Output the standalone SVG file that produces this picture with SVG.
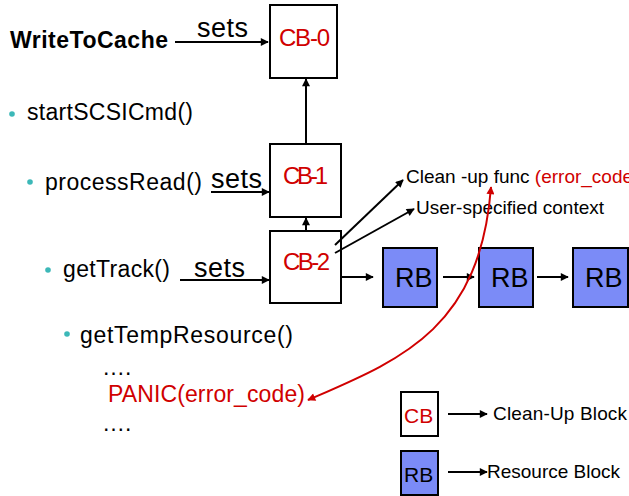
<svg xmlns="http://www.w3.org/2000/svg" width="629" height="496" viewBox="0 0 629 496">
<style>
text{font-family:"Liberation Sans",Arial,sans-serif;}
.t{font-size:23px;fill:#000;}
.red{fill:#d00000;}
.cb{fill:#fff;stroke:#000;stroke-width:2;}
.rb{fill:#7b8bf7;stroke:#000;stroke-width:2;}
.cbt{font-size:24px;fill:#d00000;}
.rbt{font-size:27px;fill:#000;}
.ln{stroke:#000;stroke-width:2;fill:none;}
.bul{fill:#3cb8b8;}
.sm{font-size:19px;fill:#000;}
</style>
<defs>
<marker id="ah" viewBox="0 0 10 10" refX="9" refY="5" markerWidth="9" markerHeight="8" markerUnits="userSpaceOnUse" orient="auto">
<path d="M0,0 L10,5 L0,10 Z" fill="#000"/>
</marker>
<marker id="ahr" viewBox="0 0 10 10" refX="9" refY="5" markerWidth="9" markerHeight="8" markerUnits="userSpaceOnUse" orient="auto-start-reverse">
<path d="M0,0 L10,5 L0,10 Z" fill="#d00000"/>
</marker>
</defs>

<g id="labels">
<text x="10" y="48" class="t" font-weight="bold" textLength="158">WriteToCache</text>
<circle class="bul" cx="12" cy="114" r="2.8"/>
<text x="27" y="120" class="t" textLength="166">startSCSICmd()</text>
<circle class="bul" cx="30" cy="182" r="2.8"/>
<text x="45" y="190" class="t" textLength="157">processRead()</text>
<circle class="bul" cx="48" cy="270" r="2.8"/>
<text x="63" y="277" class="t" textLength="107">getTrack()</text>
<circle class="bul" cx="67" cy="334" r="2.8"/>
<text x="80" y="343" class="t" textLength="213">getTempResource()</text>
<text x="102" y="375" class="t">….</text>
<text x="108" y="402" class="t red" textLength="197">PANIC(error_code)</text>
<text x="102" y="431" class="t">….</text>
<text x="197" y="37" font-size="27" textLength="51">sets</text>
<text x="211" y="188" font-size="27" textLength="51">sets</text>
<text x="194" y="277" font-size="27" textLength="51">sets</text>
<text x="406" y="183" class="sm">Clean -up func <tspan class="red">(error_code</tspan></text>
<text x="416" y="214" class="sm" textLength="188">User-specified context</text>
</g>

<g id="cb0"><rect class="cb" x="270" y="5" width="67" height="73"/><text x="279" y="46" class="cbt" textLength="51">CB-0</text></g>
<g id="cb1"><rect class="cb" x="270" y="144" width="71" height="73"/><text x="283" y="184" class="cbt" textLength="45">CB-1</text></g>
<g id="cb2"><rect class="cb" x="270" y="231" width="71" height="72"/><text x="283" y="270" class="cbt" textLength="47">CB-2</text></g>
<g id="rb1"><rect class="rb" x="383" y="248" width="54" height="59"/><text x="395" y="287" class="rbt">RB</text></g>
<g id="rb2"><rect class="rb" x="479" y="248" width="54" height="59"/><text x="491" y="287" class="rbt">RB</text></g>
<g id="rb3"><rect class="rb" x="573" y="248" width="55" height="59"/><text x="585" y="287" class="rbt">RB</text></g>

<g id="legend">
<rect class="cb" x="401" y="392" width="37" height="44"/><text x="404" y="423" font-size="21" fill="#d00000">CB</text>
<text x="493" y="420" class="sm" textLength="134">Clean-Up Block</text>
<rect class="rb" x="401" y="451" width="37" height="44"/><text x="404" y="482" font-size="21" fill="#000">RB</text>
<text x="487" y="478" class="sm" textLength="133">Resource Block</text>
</g>

<g id="connectors">
<line class="ln" x1="175" y1="42" x2="268" y2="42" marker-end="url(#ah)"/>
<line class="ln" x1="211" y1="192" x2="269" y2="192" marker-end="url(#ah)"/>
<line class="ln" x1="180" y1="280" x2="269" y2="280" marker-end="url(#ah)"/>
<line class="ln" x1="306" y1="144" x2="306" y2="79" marker-end="url(#ah)"/>
<line class="ln" x1="306" y1="231" x2="306" y2="218" marker-end="url(#ah)"/>
<line class="ln" x1="342" y1="277" x2="373" y2="277" marker-end="url(#ah)"/>
<line class="ln" x1="443" y1="277" x2="474" y2="277" marker-end="url(#ah)"/>
<line class="ln" x1="537" y1="277" x2="568" y2="277" marker-end="url(#ah)"/>
<line class="ln" x1="335" y1="245" x2="403" y2="180" marker-end="url(#ah)"/>
<line class="ln" x1="335" y1="253" x2="414" y2="209" marker-end="url(#ah)"/>
<line class="ln" x1="448" y1="414" x2="487" y2="414" marker-end="url(#ah)"/>
<line class="ln" x1="448" y1="472" x2="487" y2="472" marker-end="url(#ah)"/>
<path d="M308,400 C400,360 480,330 491,187" fill="none" stroke="#d00000" stroke-width="2" marker-start="url(#ahr)" marker-end="url(#ahr)"/>
</g>
</svg>
